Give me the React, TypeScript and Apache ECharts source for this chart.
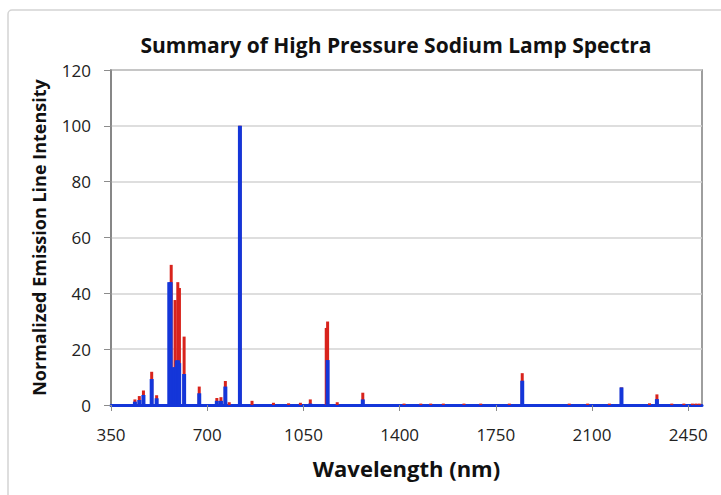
import React, { useEffect, useRef } from "react";
import * as echarts from "echarts";

const xTicks = [350, 700, 1050, 1400, 1750, 2100, 2450];
const yTicks = [0, 20, 40, 60, 80, 100, 120];

// Red series (upper envelope) – wavelength (nm), intensity
const redWavelengths = [437, 453, 468, 498, 516, 569, 583, 593, 599, 616, 671, 735, 750, 766, 780, 819, 863, 941, 996, 1039, 1075, 1133, 1138, 1173, 1266, 1416, 1477, 1513, 1559, 1634, 1695, 1799, 1846, 2017, 2084, 2163, 2207, 2309, 2336, 2390, 2434, 2465, 2478, 2490];
const redIntensity = [2, 3.2, 5.2, 11.9, 3.5, 50.2, 37.6, 44, 41.9, 24.5, 6.6, 2.5, 2.8, 8.6, 1, 100, 1.5, 0.8, 0.6, 0.8, 2, 27.6, 29.9, 1, 4.4, 0.5, 0.5, 0.5, 0.5, 0.5, 0.5, 0.5, 11.4, 0.5, 0.5, 0.5, 6.3, 0.6, 3.8, 0.5, 0.5, 0.5, 0.5, 0.5];

// Blue series (drawn on top)
const blueWavelengths = [437, 453, 468, 498, 516, 562, 567, 577, 582, 589, 594, 598, 616, 671, 735, 750, 766, 819, 1075, 1138, 1266, 1846, 2207, 2336];
const blueIntensity = [1.2, 1.8, 3.6, 9.3, 2.4, 44, 44, 13.5, 13.5, 16, 16, 15, 11.1, 4.2, 1.5, 1.5, 6.6, 100, 0.5, 16.1, 2, 8.7, 6.3, 2.1];

const RED = "#d8231c";
const BLUE = "#1436d9";
const FONT = "'Open Sans', Lato, sans-serif";

export default function App() {
  const ref = useRef<HTMLDivElement>(null);
  useEffect(() => {
    if (!ref.current) return;
    const chart = echarts.init(ref.current, null, { renderer: "svg" });
    const redData = redWavelengths.map((w, i) => [w, redIntensity[i]]);
    const blueData = blueWavelengths.map((w, i) => [w, blueIntensity[i]]);
    const xBase = {
      type: "value",
      min: 350,
      max: 2500,
      interval: 350,
    };
    chart.setOption({
      animation: false,
      backgroundColor: "#ffffff",
      textStyle: { fontFamily: FONT },
      title: {
        text: "Summary of High Pressure Sodium Lamp Spectra",
        left: 391,
        top: 29,
        textAlign: "center",
        textStyle: { fontFamily: FONT, fontSize: 21, fontWeight: "bold", color: "#111" },
      },
      graphic: [
        {
          type: "rect",
          shape: { x: 8, y: 10, width: 730, height: 500, r: 4 },
          style: { fill: "none", stroke: "#d4d4d4", lineWidth: 1.5 },
          silent: true,
          z: -10,
        },
      ],
      grid: {
        left: 111,
        top: 70,
        right: 19,
        bottom: 90,
        show: true,
        borderColor: "#7f7f7f",
        borderWidth: 1.5,
        backgroundColor: "transparent",
      },
      xAxis: [
        {
          ...xBase,
          name: "Wavelength (nm)",
          nameLocation: "middle",
          nameGap: 52,
          nameTextStyle: { fontFamily: FONT, fontSize: 22, fontWeight: "bold", color: "#111" },
          axisLine: { show: true, onZero: false, lineStyle: { color: BLUE, width: 3 } },
          axisTick: {
            show: true,
            length: 6,
            customValues: xTicks,
            lineStyle: { color: "#8c8c8c", width: 1 },
          },
          axisLabel: {
            customValues: xTicks,
            margin: 21,
            fontSize: 17,
            color: "#222",
            fontFamily: FONT,
            formatter: (v: number) => String(v),
          },
          splitLine: { show: false },
        },
        {
          ...xBase,
          show: false,
        },
      ],
      yAxis: {
        type: "value",
        min: 0,
        max: 120,
        interval: 20,
        name: "Normalized Emission Line Intensity",
        nameLocation: "middle",
        nameGap: 63,
        nameTextStyle: { fontFamily: FONT, fontSize: 18, fontWeight: "bold", color: "#111" },
        axisLine: { show: true, lineStyle: { color: "#7f7f7f", width: 1.5 } },
        axisTick: { show: true, length: 7, lineStyle: { color: "#8c8c8c" } },
        axisLabel: {
          customValues: yTicks,
          margin: 20,
          fontSize: 17,
          color: "#222",
          fontFamily: FONT,
          formatter: (v: number) => String(v),
        },
        splitLine: { show: true, lineStyle: { color: "#d3d3d3", width: 1.5 } },
      },
      series: [
        {
          type: "bar",
          name: "Red",
          xAxisIndex: 1,
          data: redData,
          barWidth: 3,
          itemStyle: { color: RED },
          z: 2,
        },
        {
          type: "bar",
          name: "Blue",
          xAxisIndex: 0,
          data: blueData,
          barWidth: 4,
          itemStyle: { color: BLUE },
          z: 3,
        },
      ],
    });
    return () => chart.dispose();
  }, []);
  return (
    <div
      ref={ref}
      style={{ position: "fixed", left: 0, top: 0, width: 721, height: 495 }}
    />
  );
}
